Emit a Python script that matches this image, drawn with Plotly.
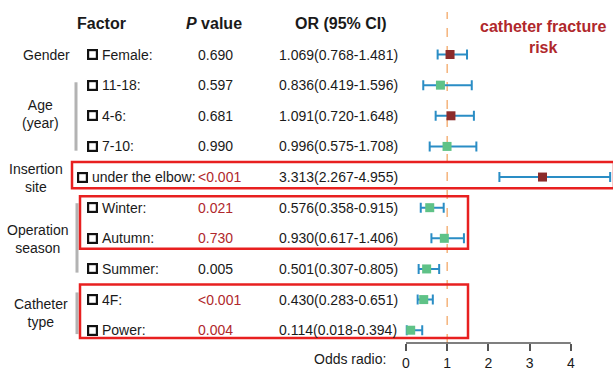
import plotly.graph_objects as go

# ---- data ----
factors = ["Female:", "11-18:", "4-6:", "7-10:", "under the elbow:", "Winter:",
           "Autumn:", "Summer:", "4F:", "Power:"]
p_values = ["0.690", "0.597", "0.681", "0.990", "<0.001", "0.021", "0.730",
            "0.005", "<0.001", "0.004"]
p_highlight = [False, False, False, False, True, True, True, False, True, True]
or_vals = [1.069, 0.836, 1.091, 0.996, 3.313, 0.576, 0.930, 0.501, 0.430, 0.114]
ci_low = [0.768, 0.419, 0.720, 0.575, 2.267, 0.358, 0.617, 0.307, 0.283, 0.018]
ci_high = [1.481, 1.596, 1.648, 1.708, 4.955, 0.915, 1.406, 0.805, 0.651, 0.394]
tick_vals = [0, 1, 2, 3, 4]
groups = ["Gender", "Age<br>(year)", "Insertion<br>site", "Operation<br>season", "Catheter<br>type"]

# ---- layout constants (pixels) ----
W, H = 613, 371
MB = 25
PH = H - MB          # plot-area height
X0PX, UNIT = 406.0, 41.2   # pixel of OR=0 and pixels per unit
ROW0, ROWSTEP = 55.0, 30.9

xr = [-X0PX / UNIT, (W - X0PX) / UNIT]
yt = -ROW0 / ROWSTEP
yb = yt + PH / ROWSTEP

def xp(px):
    return px / W

def yp(py):
    return (PH - py) / PH

FONT = "Liberation Sans, Arial, sans-serif"
TXT = "#1a1a1a"
RED = "#b0282c"
BOXRED = "#e82020"

rows = list(range(len(factors)))
colors = ["#8b2b2b" if v > 1 else "#5fc287" for v in or_vals]

fig = go.Figure()
fig.add_trace(go.Scatter(
    x=or_vals, y=rows, mode="markers",
    marker=dict(symbol="square", size=9, color=colors, line=dict(width=0)),
    error_x=dict(type="data", symmetric=False,
                 array=[h - o for h, o in zip(ci_high, or_vals)],
                 arrayminus=[o - l for o, l in zip(or_vals, ci_low)],
                 color="#2a8dc5", thickness=2, width=5),
    cliponaxis=False, showlegend=False, hoverinfo="skip"))

ann = []
def add(text, x, y, size=14, color=TXT, xanchor="left", yref="paper", align="left"):
    ann.append(dict(text=text, x=x, y=y, xref="paper", yref=yref, showarrow=False,
                    xanchor=xanchor, yanchor="middle", align=align,
                    font=dict(family=FONT, size=size, color=color)))

# headers
add("<b>Factor</b>", xp(101), yp(24), size=16, xanchor="center")
add("<b><i>P</i> value</b>", xp(214), yp(24), size=16, xanchor="center")
add("<b>OR (95% CI)</b>", xp(341), yp(24), size=16, xanchor="center")
add("<b>catheter fracture<br>risk</b>", xp(543), yp(37), size=16, color=RED,
    xanchor="center", align="center")

# rows
for i, (f, p, hl) in enumerate(zip(factors, p_values, p_highlight)):
    xleft = 77 if i == 4 else 87
    # checkbox
    ann.append(dict(text=" ", x=xp(xleft), y=i, xref="paper", yref="y", showarrow=False,
                    xanchor="left", yanchor="middle", width=7, height=7,
                    borderwidth=2.2, bordercolor="#111111", borderpad=0,
                    font=dict(family=FONT, size=4)))
    add(f, xp(xleft + 13), i, yref="y")
    add(p, xp(196), i, yref="y", color=RED if hl else TXT)
    add("%.3f(%.3f-%.3f)" % (or_vals[i], ci_low[i], ci_high[i]), xp(277), i, yref="y")

# group labels
add(groups[0], xp(72), yp(55), xanchor="right")
add(groups[1], xp(40), yp(115), xanchor="center", align="center")
add(groups[2], xp(36), yp(180), xanchor="center", align="center")
add(groups[3], xp(37), yp(241), xanchor="center", align="center")
add(groups[4], xp(41), yp(316), xanchor="center", align="center")

add("Odds radio:", xp(350), yp(362), xanchor="center")

shapes = []
# dashed reference line at OR = 1
shapes.append(dict(type="line", xref="x", yref="paper", x0=1, x1=1, y0=0, y1=yp(12),
                   line=dict(color="#f5b47c", width=1.5, dash="dash"), layer="below"))
# axis line from 0 to 4
shapes.append(dict(type="line", xref="x", yref="paper", x0=tick_vals[0], x1=tick_vals[-1],
                   y0=0, y1=0, line=dict(color="#555555", width=1.5)))
# gray group bars
for (x, y0, y1) in [(76, 83, 152), (77, 205, 275), (77, 295, 337)]:
    shapes.append(dict(type="line", xref="paper", yref="paper", x0=xp(x), x1=xp(x),
                       y0=yp(y0), y1=yp(y1), line=dict(color="#b3b3b3", width=3)))
# red highlight boxes
for (x0, y0, x1, y1) in [(72, 163.5, 614, 190), (80, 198, 468, 251), (80, 287, 468, 341)]:
    shapes.append(dict(type="rect", xref="paper", yref="paper", x0=xp(x0), x1=xp(x1),
                       y0=yp(y0), y1=yp(y1), line=dict(color=BOXRED, width=2.5)))

fig.update_layout(
    width=W, height=H, margin=dict(l=0, r=0, t=0, b=MB),
    paper_bgcolor="white", plot_bgcolor="white",
    xaxis=dict(range=xr, showgrid=False, zeroline=False, showline=False,
               tickvals=tick_vals, ticks="outside", ticklen=7, tickwidth=1.5,
               tickcolor="#555555",
               tickfont=dict(family=FONT, size=14, color=TXT)),
    yaxis=dict(range=[yb, yt], showgrid=False, zeroline=False, showline=False,
               showticklabels=False, ticks=""),
    annotations=ann, shapes=shapes)

fig.write_html("out.html", config={"displayModeBar": False},
               post_script="document.body.style.margin='0';document.body.style.padding='0';")
